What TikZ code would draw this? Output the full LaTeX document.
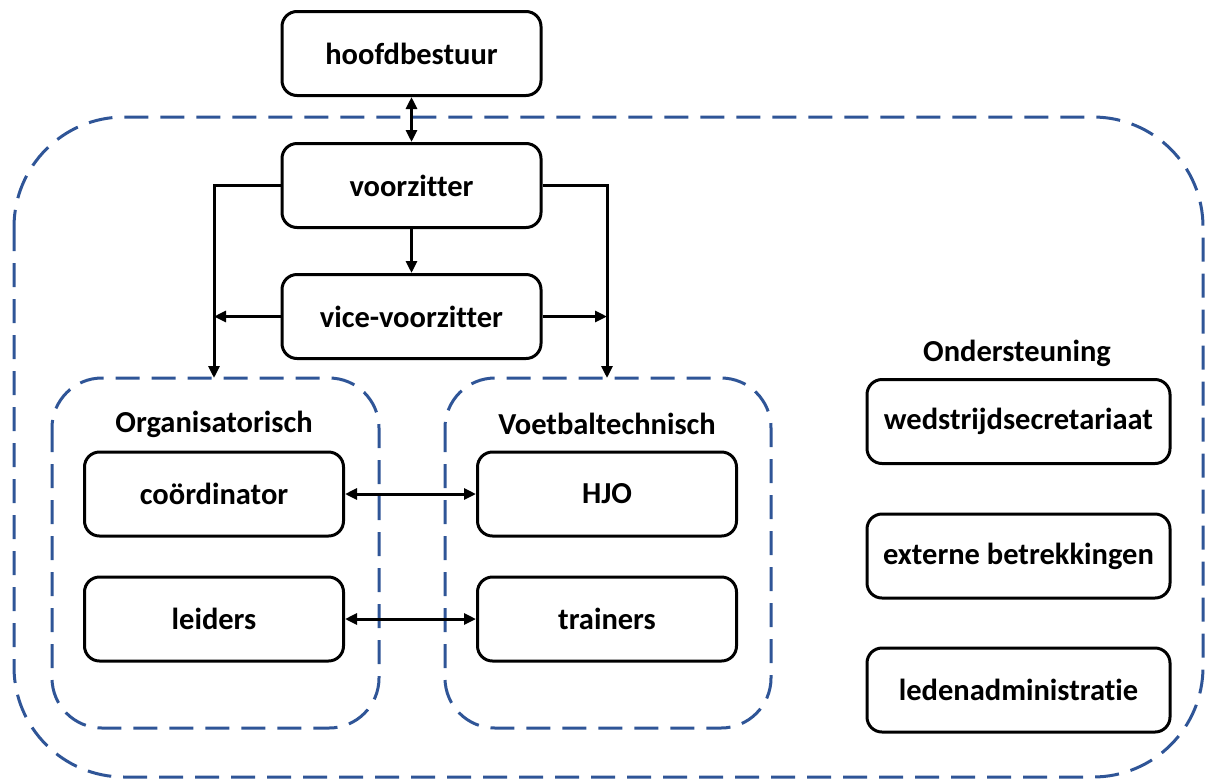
\documentclass[tikz,border=0pt]{standalone}
\usepackage{fontspec}
\setmainfont{Carlito}[Ligatures=NoCommon]
\usetikzlibrary{positioning,arrows.meta}
\definecolor{dashblue}{RGB}{47,85,151}

\begin{document}
\begin{tikzpicture}[x=1pt, y=-1pt,
	box/.style={draw, rounded corners=15pt, line width=3pt, minimum width=259pt, minimum height=84pt, font=\fontsize{30.5}{36}\selectfont\bfseries},
	wide/.style={box, minimum width=303pt},
	grp/.style={draw=dashblue, dash pattern=on 24pt off 12pt, line width=3pt},
	lbl/.style={font=\fontsize{30.5}{36}\selectfont\bfseries},
	ar/.style={line width=3pt, -{Triangle[length=12pt,width=11pt]}},
	dar/.style={line width=3pt, {Triangle[length=12pt,width=11pt]}-{Triangle[length=12pt,width=11pt]}}]
	\useasboundingbox (0,0) rectangle (1206,780);

	% groups
	\draw[grp, rounded corners=110pt] (14,117) rectangle (1203,777);
	\draw[grp, rounded corners=50pt] (52,378) rectangle (379,728);
	\draw[grp, rounded corners=50pt] (445,378) rectangle (771,728);
	\coordinate (otop) at (214,378);
	\coordinate (vtop) at (607,378);

	\node[box] (H) at (411.5,53.5) {hoofdbestuur};
	\node[box, below=45pt of H] (V) {voorzitter};
	\node[box, below=44pt of V] (VV) {vice-voorzitter};

	\node[lbl] (org) at (214,424) {Organisatorisch};
	\node[lbl] (voet) at (607,424) {Voetbaltechnisch};
	\node[box] (coord) at (214,494) {coördinator};
	\node[box] (hjo) at (607,494) {HJO};
	\node[box] (leid) at (214,619) {leiders};
	\node[box] (train) at (607,619) {trainers};

	\node[lbl] (ond) at (1017,353) {Ondersteuning};
	\node[wide] (wed) at (1018.5,421.5) {wedstrijdsecretariaat};
	\node[wide] (ext) at (1018.5,556) {externe betrekkingen};
	\node[wide] (led) at (1018.5,690) {ledenadministratie};

	\draw[dar] (H) -- (V);
	\draw[ar] (V) -- (VV);
	\draw[ar] (V.west) -| (otop);
	\draw[ar] (V.east) -| (vtop);
	\draw[ar] (VV.west) -- (VV.west -| otop);
	\draw[ar] (VV.east) -- (VV.east -| vtop);
	\draw[dar] (coord) -- (hjo);
	\draw[dar] (leid) -- (train);
\end{tikzpicture}
\end{document}
